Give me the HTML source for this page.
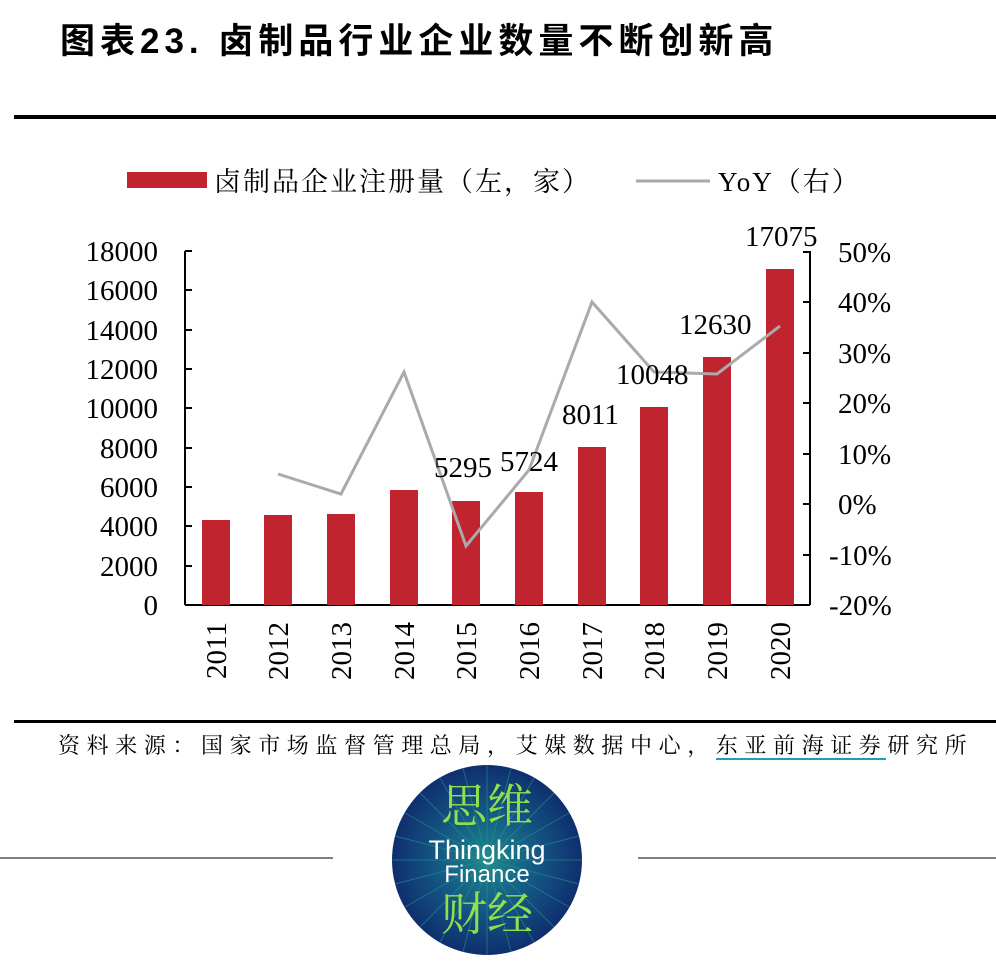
<!DOCTYPE html>
<html><head><meta charset="utf-8"><style>
body{margin:0;background:#fff;width:996px;height:957px;overflow:hidden}
svg text{font-family:"Liberation Serif","Noto Serif CJK SC",serif}
</style></head><body>
<svg width="996" height="957" viewBox="0 0 996 957" xmlns="http://www.w3.org/2000/svg">
<defs>
<radialGradient id="g" cx="50%" cy="50%" r="50%">
<stop offset="0" stop-color="#1c8a8a"/><stop offset="0.5" stop-color="#145a85"/><stop offset="1" stop-color="#0f2f6e"/>
</radialGradient>
<clipPath id="c"><circle cx="487" cy="860" r="95"/></clipPath>
</defs>
<text x="60" y="53" font-size="35" font-weight="bold" letter-spacing="5" style="font-family:'Liberation Sans','Noto Sans CJK SC',sans-serif">图表23. 卤制品行业企业数量不断创新高</text>
<rect x="14" y="115" width="982" height="4" fill="#000"/>
<rect x="127" y="172" width="80" height="16" fill="#c0252f"/>
<text x="214" y="191" font-size="27" letter-spacing="2">卤制品企业注册量（左，家）</text>
<line x1="636" y1="181" x2="710" y2="181" stroke="#aaa" stroke-width="3"/>
<text x="718" y="191" font-size="27" letter-spacing="2">YoY（右）</text>
<g stroke="#000" stroke-width="2">
<line x1="185" y1="251" x2="185" y2="605"/><line x1="185" y1="605" x2="810" y2="605"/><line x1="810" y1="251" x2="810" y2="605"/>
</g>
<g stroke="#000" stroke-width="2">
<line x1="185" y1="251" x2="192" y2="251"/><line x1="185" y1="290" x2="192" y2="290"/><line x1="185" y1="330" x2="192" y2="330"/><line x1="185" y1="369" x2="192" y2="369"/><line x1="185" y1="408" x2="192" y2="408"/><line x1="185" y1="448" x2="192" y2="448"/><line x1="185" y1="487" x2="192" y2="487"/><line x1="185" y1="526" x2="192" y2="526"/><line x1="185" y1="566" x2="192" y2="566"/>
<line x1="803" y1="252" x2="810" y2="252"/><line x1="803" y1="302" x2="810" y2="302"/><line x1="803" y1="353" x2="810" y2="353"/><line x1="803" y1="403" x2="810" y2="403"/><line x1="803" y1="454" x2="810" y2="454"/><line x1="803" y1="504" x2="810" y2="504"/><line x1="803" y1="555" x2="810" y2="555"/>
</g>
<g font-size="29" text-anchor="end">
<text x="158" y="261">18000</text><text x="158" y="300">16000</text><text x="158" y="340">14000</text><text x="158" y="379">12000</text><text x="158" y="418">10000</text><text x="158" y="458">8000</text><text x="158" y="497">6000</text><text x="158" y="536">4000</text><text x="158" y="576">2000</text><text x="158" y="615">0</text>
</g>
<g font-size="29">
<text x="838" y="262">50%</text><text x="838" y="312">40%</text><text x="838" y="363">30%</text><text x="838" y="413">20%</text><text x="838" y="464">10%</text><text x="838" y="514">0%</text><text x="829" y="565">-10%</text><text x="829" y="615">-20%</text>
</g>
<g fill="#c0252f">
<rect x="202" y="520" width="28" height="85"/><rect x="264" y="515" width="28" height="90"/><rect x="327" y="514" width="28" height="91"/><rect x="390" y="490" width="28" height="115"/><rect x="452" y="501" width="28" height="104"/><rect x="515" y="492" width="28" height="113"/><rect x="578" y="447" width="28" height="158"/><rect x="640" y="407" width="28" height="198"/><rect x="703" y="357" width="28" height="248"/><rect x="766" y="269" width="28" height="336"/>
</g>
<polyline points="278,474 341,494 404,372 466,546 529,470 592,302 654,372 717,374 780,326" fill="none" stroke="#aaa" stroke-width="3"/>
<g font-size="29">
<text x="434" y="477">5295</text><text x="500" y="471">5724</text><text x="562" y="424">8011</text><text x="616" y="384">10048</text><text x="679" y="334">12630</text><text x="745" y="246">17075</text>
</g>
<g font-size="29" text-anchor="end">
<text transform="translate(226,622) rotate(-90)">2011</text><text transform="translate(288,622) rotate(-90)">2012</text><text transform="translate(351,622) rotate(-90)">2013</text><text transform="translate(414,622) rotate(-90)">2014</text><text transform="translate(476,622) rotate(-90)">2015</text><text transform="translate(539,622) rotate(-90)">2016</text><text transform="translate(602,622) rotate(-90)">2017</text><text transform="translate(664,622) rotate(-90)">2018</text><text transform="translate(727,622) rotate(-90)">2019</text><text transform="translate(790,622) rotate(-90)">2020</text>
</g>
<rect x="14" y="720" width="982" height="3" fill="#000"/>
<text x="58" y="753" font-size="22" letter-spacing="6.6">资料来源：国家市场监督管理总局，艾媒数据中心，东亚前海证券研究所</text>
<rect x="716" y="758" width="170" height="2" fill="#1aa0b8"/>
<line x1="0" y1="858" x2="333" y2="858" stroke="#000" stroke-width="1"/>
<line x1="638" y1="858" x2="996" y2="858" stroke="#000" stroke-width="1"/>
<circle cx="487" cy="860" r="95" fill="url(#g)"/>
<g clip-path="url(#c)" stroke="#2a8f8f" stroke-width="1" opacity="0.6">
<path d="M487 860L582 860M487 860L579 884M487 860L569 907M487 860L554 927M487 860L534 942M487 860L511 952M487 860L487 955M487 860L463 952M487 860L440 942M487 860L420 927M487 860L405 907M487 860L395 884M487 860L392 860M487 860L395 836M487 860L405 813M487 860L420 793M487 860L440 778M487 860L463 768M487 860L487 765M487 860L511 768M487 860L534 778M487 860L554 793M487 860L569 813M487 860L579 836"/>
</g>
<text x="487" y="822" font-size="46" fill="#8fe04a" text-anchor="middle" style="font-family:'Noto Serif CJK SC',serif">思维</text>
<text x="487" y="859" font-size="27" fill="#fff" text-anchor="middle" style="font-family:'Liberation Sans',sans-serif">Thingking</text>
<text x="487" y="882" font-size="24" fill="#fff" text-anchor="middle" style="font-family:'Liberation Sans',sans-serif">Finance</text>
<text x="487" y="930" font-size="46" fill="#8fe04a" text-anchor="middle" style="font-family:'Noto Serif CJK SC',serif">财经</text>
</svg>
</body></html>
